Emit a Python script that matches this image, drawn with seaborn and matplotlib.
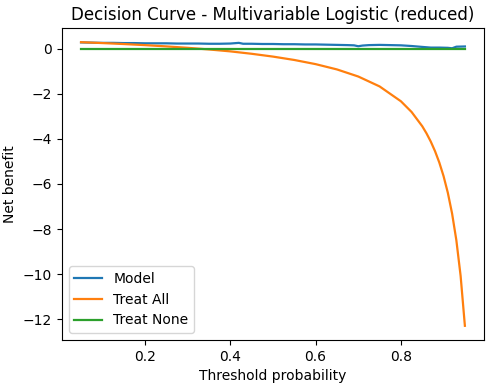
import seaborn as sns
import pandas as pd
import matplotlib.pyplot as plt

# threshold grid for the reference strategies
thresholds = [0.05, 0.10, 0.15, 0.20, 0.25, 0.30, 0.35, 0.40, 0.45, 0.50,
              0.55, 0.60, 0.65, 0.70, 0.75, 0.80, 0.825, 0.85, 0.86, 0.87,
              0.88, 0.89, 0.90, 0.91, 0.92, 0.93, 0.94, 0.95]
treat_all = [0.300, 0.261, 0.218, 0.169, 0.113, 0.050, -0.023, -0.108, -0.215, -0.340,
             -0.490, -0.675, -0.910, -1.225, -1.665, -2.325, -2.800, -3.433, -3.750, -4.115,
             -4.542, -5.045, -5.650, -6.389, -7.313, -8.500, -10.083, -12.300]

model_thr = [0.05, 0.075, 0.10, 0.125, 0.15, 0.175, 0.20, 0.225, 0.25, 0.275,
             0.30, 0.325, 0.35, 0.375, 0.40, 0.42, 0.43, 0.45, 0.475, 0.50,
             0.525, 0.55, 0.575, 0.60, 0.625, 0.65, 0.675, 0.69, 0.70, 0.71,
             0.725, 0.75, 0.775, 0.80, 0.825, 0.85, 0.87, 0.89, 0.91, 0.92,
             0.93, 0.95]
model = [0.29, 0.28, 0.27, 0.27, 0.26, 0.26, 0.25, 0.25, 0.25, 0.24,
         0.24, 0.24, 0.23, 0.23, 0.24, 0.27, 0.23, 0.23, 0.22, 0.22,
         0.21, 0.21, 0.20, 0.20, 0.19, 0.18, 0.17, 0.16, 0.12, 0.15,
         0.17, 0.18, 0.17, 0.16, 0.13, 0.09, 0.06, 0.06, 0.05, 0.03,
         0.10, 0.11]

none_thr = [0.05, 0.95]
treat_none = [0.0, 0.0]

df = pd.concat([
    pd.DataFrame({'threshold': model_thr, 'nb': model, 'strategy': 'Model'}),
    pd.DataFrame({'threshold': thresholds, 'nb': treat_all, 'strategy': 'Treat All'}),
    pd.DataFrame({'threshold': none_thr, 'nb': treat_none, 'strategy': 'Treat None'}),
])

fig, ax = plt.subplots(figsize=(4.87, 3.89), dpi=100)
sns.lineplot(data=df, x='threshold', y='nb', hue='strategy', ax=ax, linewidth=1.6)
ax.set_xlabel('Threshold probability')
ax.set_ylabel('Net benefit')
ax.set_title('Decision Curve - Multivariable Logistic (reduced)')
ax.legend(loc='lower left', title=None)
fig.subplots_adjust(left=0.127, right=0.994, top=0.928, bottom=0.126)
fig.savefig('out.png', dpi=100)
